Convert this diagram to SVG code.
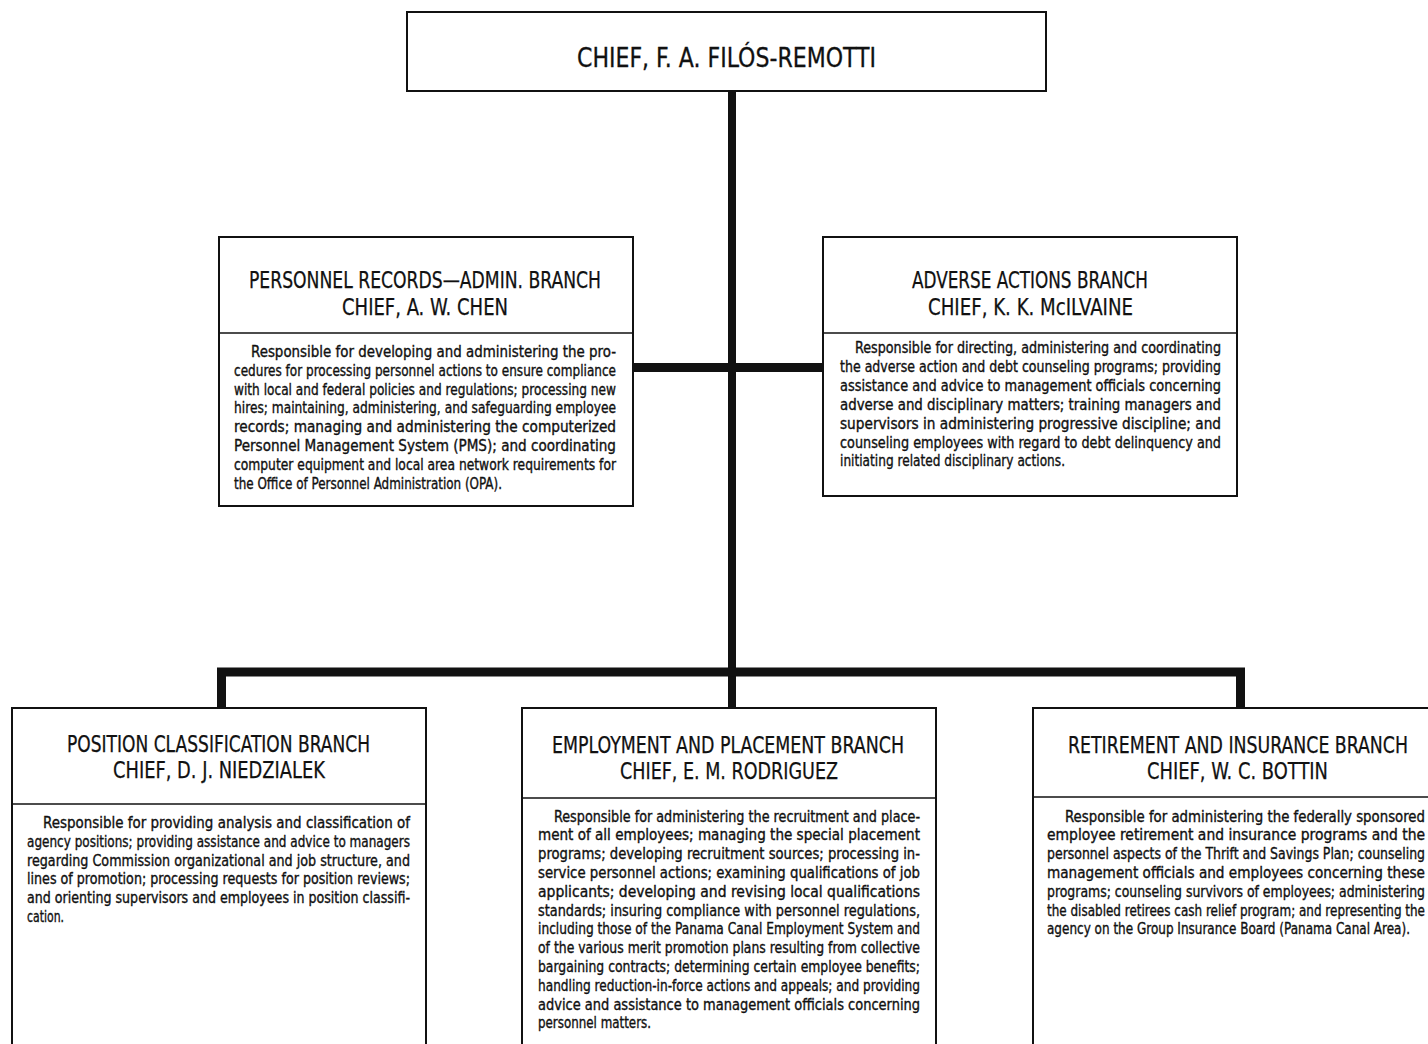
<svg xmlns="http://www.w3.org/2000/svg" width="1428" height="1044" viewBox="0 0 1428 1044">
  <style>
    .box { fill: #fff; stroke: #111; stroke-width: 2; }
    .rule { stroke: #111; stroke-width: 1.6; }
    .link { fill: none; stroke: #111; stroke-width: 9; stroke-linejoin: miter; }
    text { font-family: "Liberation Sans Narrow", "DejaVu Sans Condensed", "Liberation Sans", sans-serif; fill: #111; }
    .title { font-size: 27px; text-anchor: middle; stroke: #111; stroke-width: 0.3; }
    .head { font-size: 23px; text-anchor: middle; stroke: #111; stroke-width: 0.25; }
    .body { font-size: 15.5px; }
    .body text { stroke: #111; stroke-width: 0.35; }
  </style>
  <rect width="1428" height="1044" fill="#fff"/>

  <!-- connectors -->
  <g id="connectors">
    <line class="link" x1="732" y1="91" x2="732" y2="708" style="stroke-width:8"/>
    <line class="link" x1="633" y1="367.5" x2="823" y2="367.5"/>
    <path class="link" d="M221.5,708 V672 H1240.5 V708"/>
  </g>

  <!-- chief -->
  <g id="chief">
    <rect class="box" x="407" y="12" width="639" height="79"/>
    <text class="title" x="726.5" y="67" textLength="299" lengthAdjust="spacingAndGlyphs">CHIEF, F. A. FILÓS-REMOTTI</text>
  </g>

  <!-- personnel records -->
  <g id="personnel-records">
    <rect class="box" x="219" y="237" width="414" height="269"/>
    <line class="rule" x1="219" y1="333" x2="633" y2="333"/>
    <text class="head" x="425" y="288" textLength="352" lengthAdjust="spacingAndGlyphs">PERSONNEL RECORDS—ADMIN. BRANCH</text>
    <text class="head" x="425" y="315" textLength="166" lengthAdjust="spacingAndGlyphs">CHIEF, A. W. CHEN</text>
    <g class="body">
      <text x="251" y="357" textLength="365" lengthAdjust="spacingAndGlyphs">Responsible for developing and administering the pro-</text>
      <text x="234" y="375.8" textLength="382" lengthAdjust="spacingAndGlyphs">cedures for processing personnel actions to ensure compliance</text>
      <text x="234" y="394.6" textLength="382" lengthAdjust="spacingAndGlyphs">with local and federal policies and regulations; processing new</text>
      <text x="234" y="413.4" textLength="382" lengthAdjust="spacingAndGlyphs">hires; maintaining, administering, and safeguarding employee</text>
      <text x="234" y="432.2" textLength="382" lengthAdjust="spacingAndGlyphs">records; managing and administering the computerized</text>
      <text x="234" y="451" textLength="382" lengthAdjust="spacingAndGlyphs">Personnel Management System (PMS); and coordinating</text>
      <text x="234" y="469.8" textLength="382" lengthAdjust="spacingAndGlyphs">computer equipment and local area network requirements for</text>
      <text x="234" y="488.6" textLength="268" lengthAdjust="spacingAndGlyphs">the Office of Personnel Administration (OPA).</text>
    </g>
  </g>

  <!-- adverse actions -->
  <g id="adverse-actions">
    <rect class="box" x="823" y="237" width="414" height="259"/>
    <line class="rule" x1="823" y1="333" x2="1237" y2="333"/>
    <text class="head" x="1030" y="288" textLength="236" lengthAdjust="spacingAndGlyphs">ADVERSE ACTIONS BRANCH</text>
    <text class="head" x="1030.5" y="315" textLength="205" lengthAdjust="spacingAndGlyphs">CHIEF, K. K. McILVAINE</text>
    <g class="body">
      <text x="855" y="353" textLength="366" lengthAdjust="spacingAndGlyphs">Responsible for directing, administering and coordinating</text>
      <text x="840" y="371.9" textLength="381" lengthAdjust="spacingAndGlyphs">the adverse action and debt counseling programs; providing</text>
      <text x="840" y="390.8" textLength="381" lengthAdjust="spacingAndGlyphs">assistance and advice to management officials concerning</text>
      <text x="840" y="409.7" textLength="381" lengthAdjust="spacingAndGlyphs">adverse and disciplinary matters; training managers and</text>
      <text x="840" y="428.6" textLength="381" lengthAdjust="spacingAndGlyphs">supervisors in administering progressive discipline; and</text>
      <text x="840" y="447.5" textLength="381" lengthAdjust="spacingAndGlyphs">counseling employees with regard to debt delinquency and</text>
      <text x="840" y="466.4" textLength="225" lengthAdjust="spacingAndGlyphs">initiating related disciplinary actions.</text>
    </g>
  </g>

  <!-- position classification -->
  <g id="position-classification">
    <rect class="box" x="12" y="708" width="414" height="345"/>
    <line class="rule" x1="12" y1="804" x2="426" y2="804"/>
    <text class="head" x="218.5" y="752" textLength="303" lengthAdjust="spacingAndGlyphs">POSITION CLASSIFICATION BRANCH</text>
    <text class="head" x="219" y="778" textLength="212" lengthAdjust="spacingAndGlyphs">CHIEF, D. J. NIEDZIALEK</text>
    <g class="body">
      <text x="43" y="828" textLength="367" lengthAdjust="spacingAndGlyphs">Responsible for providing analysis and classification of</text>
      <text x="27" y="846.8" textLength="383" lengthAdjust="spacingAndGlyphs">agency positions; providing assistance and advice to managers</text>
      <text x="27" y="865.6" textLength="383" lengthAdjust="spacingAndGlyphs">regarding Commission organizational and job structure, and</text>
      <text x="27" y="884.4" textLength="383" lengthAdjust="spacingAndGlyphs">lines of promotion; processing requests for position reviews;</text>
      <text x="27" y="903.2" textLength="383" lengthAdjust="spacingAndGlyphs">and orienting supervisors and employees in position classifi-</text>
      <text x="27" y="922" textLength="37" lengthAdjust="spacingAndGlyphs">cation.</text>
    </g>
  </g>

  <!-- employment and placement -->
  <g id="employment-placement">
    <rect class="box" x="522" y="708" width="414" height="345"/>
    <line class="rule" x1="522" y1="798" x2="936" y2="798"/>
    <text class="head" x="728" y="753" textLength="352" lengthAdjust="spacingAndGlyphs">EMPLOYMENT AND PLACEMENT BRANCH</text>
    <text class="head" x="729" y="779" textLength="218" lengthAdjust="spacingAndGlyphs">CHIEF, E. M. RODRIGUEZ</text>
    <g class="body">
      <text x="554" y="821.5" textLength="366" lengthAdjust="spacingAndGlyphs">Responsible for administering the recruitment and place-</text>
      <text x="538" y="840.3" textLength="382" lengthAdjust="spacingAndGlyphs">ment of all employees; managing the special placement</text>
      <text x="538" y="859.1" textLength="382" lengthAdjust="spacingAndGlyphs">programs; developing recruitment sources; processing in-</text>
      <text x="538" y="877.9" textLength="382" lengthAdjust="spacingAndGlyphs">service personnel actions; examining qualifications of job</text>
      <text x="538" y="896.7" textLength="382" lengthAdjust="spacingAndGlyphs">applicants; developing and revising local qualifications</text>
      <text x="538" y="915.5" textLength="382" lengthAdjust="spacingAndGlyphs">standards; insuring compliance with personnel regulations,</text>
      <text x="538" y="934.3" textLength="382" lengthAdjust="spacingAndGlyphs">including those of the Panama Canal Employment System and</text>
      <text x="538" y="953.1" textLength="382" lengthAdjust="spacingAndGlyphs">of the various merit promotion plans resulting from collective</text>
      <text x="538" y="971.9" textLength="382" lengthAdjust="spacingAndGlyphs">bargaining contracts; determining certain employee benefits;</text>
      <text x="538" y="990.7" textLength="382" lengthAdjust="spacingAndGlyphs">handling reduction-in-force actions and appeals; and providing</text>
      <text x="538" y="1009.5" textLength="382" lengthAdjust="spacingAndGlyphs">advice and assistance to management officials concerning</text>
      <text x="538" y="1028.3" textLength="113" lengthAdjust="spacingAndGlyphs">personnel matters.</text>
    </g>
  </g>

  <!-- retirement and insurance -->
  <g id="retirement-insurance">
    <rect class="box" x="1033" y="708" width="420" height="345"/>
    <line class="rule" x1="1033" y1="797" x2="1428" y2="797"/>
    <text class="head" x="1238" y="753" textLength="340" lengthAdjust="spacingAndGlyphs">RETIREMENT AND INSURANCE BRANCH</text>
    <text class="head" x="1237.5" y="779" textLength="181" lengthAdjust="spacingAndGlyphs">CHIEF, W. C. BOTTIN</text>
    <g class="body">
      <text x="1065" y="821.5" textLength="360" lengthAdjust="spacingAndGlyphs">Responsible for administering the federally sponsored</text>
      <text x="1047" y="840.3" textLength="378" lengthAdjust="spacingAndGlyphs">employee retirement and insurance programs and the</text>
      <text x="1047" y="859.1" textLength="378" lengthAdjust="spacingAndGlyphs">personnel aspects of the Thrift and Savings Plan; counseling</text>
      <text x="1047" y="877.9" textLength="378" lengthAdjust="spacingAndGlyphs">management officials and employees concerning these</text>
      <text x="1047" y="896.7" textLength="378" lengthAdjust="spacingAndGlyphs">programs; counseling survivors of employees; administering</text>
      <text x="1047" y="915.5" textLength="378" lengthAdjust="spacingAndGlyphs">the disabled retirees cash relief program; and representing the</text>
      <text x="1047" y="934.3" textLength="363" lengthAdjust="spacingAndGlyphs">agency on the Group Insurance Board (Panama Canal Area).</text>
    </g>
  </g>
</svg>
